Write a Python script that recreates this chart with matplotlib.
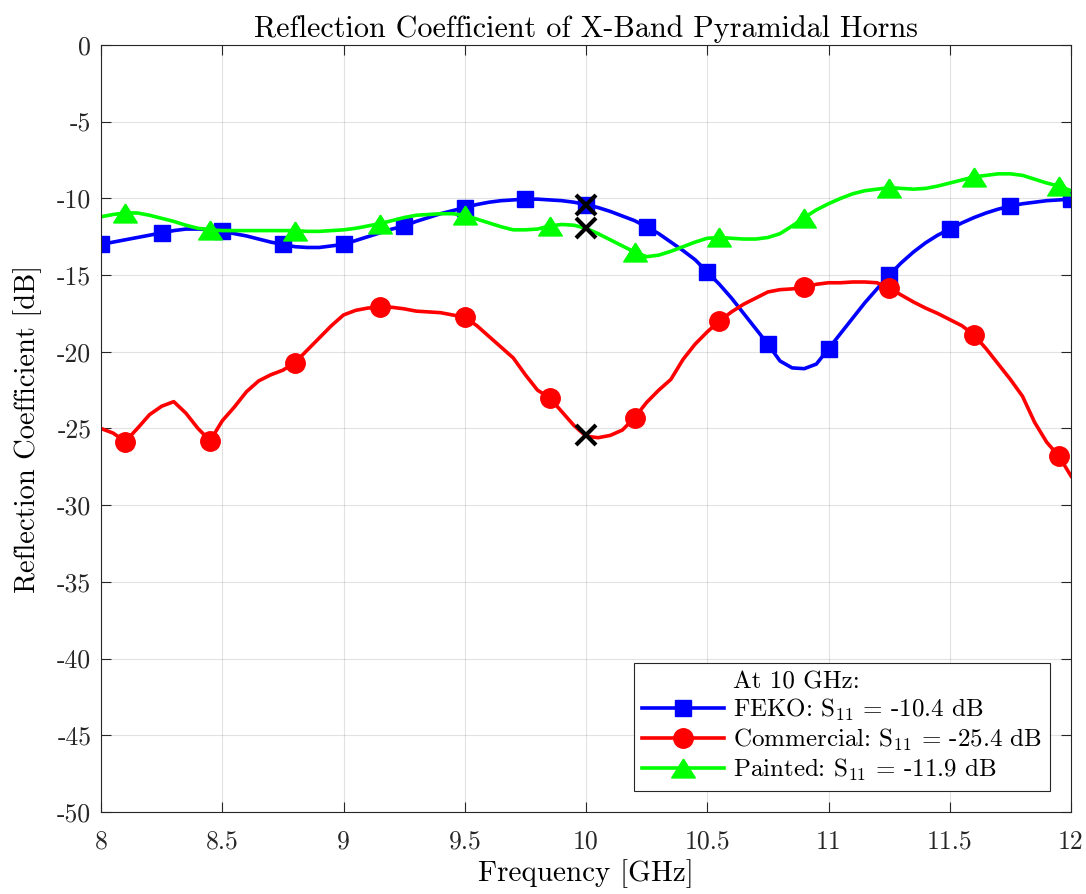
import numpy as np
import matplotlib
matplotlib.use("Agg")
import matplotlib.pyplot as plt

plt.rcParams["font.family"] = "serif"
plt.rcParams["font.serif"] = ["cmr10"]
plt.rcParams["mathtext.fontset"] = "cm"
plt.rcParams["axes.formatter.use_mathtext"] = True

# frequency grid, 0.05 GHz steps
freq = np.round(np.arange(8.0, 12.0001, 0.05), 2)

feko = [-13.0, -12.85, -12.7, -12.55, -12.4, -12.25, -12.1, -12.0, -12.0, -12.05,
        -12.15, -12.3, -12.45, -12.65, -12.85, -13.0, -13.15, -13.2, -13.2, -13.1,
        -13.0, -12.75, -12.5, -12.25, -12.0, -11.8, -11.5, -11.25, -11.0, -10.8,
        -10.6, -10.4, -10.25, -10.15, -10.1, -10.05, -10.05, -10.1, -10.15, -10.25,
        -10.4, -10.6, -10.85, -11.15, -11.45, -11.85, -12.3, -12.85, -13.4, -14.0,
        -14.8, -15.6, -16.5, -17.5, -18.5, -19.5, -20.6, -21.05, -21.1, -20.8,
        -19.8, -18.8, -17.8, -16.8, -15.9, -15.0, -14.2, -13.5, -12.9, -12.4,
        -12.0, -11.6, -11.25, -10.95, -10.7, -10.5, -10.35, -10.25, -10.15, -10.1,
        -10.05]

commercial = [-25.0, -25.3, -25.85, -25.0, -24.1, -23.55, -23.25, -24.0, -25.0, -25.8,
              -24.5, -23.6, -22.6, -21.9, -21.5, -21.2, -20.7, -19.9, -19.1, -18.3,
              -17.6, -17.3, -17.15, -17.1, -17.1, -17.2, -17.35, -17.4, -17.45, -17.6,
              -17.75, -18.3, -19.0, -19.7, -20.4, -21.5, -22.5, -23.0, -23.9, -24.8,
              -25.5, -25.6, -25.45, -25.1, -24.3, -23.3, -22.5, -21.8, -20.5, -19.5,
              -18.7, -18.0, -17.4, -16.9, -16.5, -16.1, -15.95, -15.9, -15.8, -15.6,
              -15.5, -15.5, -15.45, -15.45, -15.5, -15.85, -16.3, -16.75, -17.15, -17.5,
              -17.9, -18.3, -18.9, -19.8, -20.8, -21.8, -22.9, -24.6, -25.9, -26.8,
              -28.1]

painted = [-11.2, -11.05, -10.95, -10.95, -11.1, -11.3, -11.5, -11.75, -11.95, -12.05,
           -12.1, -12.1, -12.1, -12.1, -12.1, -12.1, -12.1, -12.15, -12.15, -12.1,
           -12.05, -11.95, -11.8, -11.65, -11.45, -11.25, -11.1, -11.05, -11.0, -11.0,
           -11.1, -11.35, -11.6, -11.85, -12.05, -12.05, -12.0, -11.8, -11.7, -11.75,
           -11.95, -12.3, -12.7, -13.1, -13.5, -13.8, -13.7, -13.45, -13.15, -12.85,
           -12.6, -12.55, -12.6, -12.65, -12.65, -12.55, -12.3, -11.8, -11.25, -10.75,
           -10.35, -10.0, -9.7, -9.5, -9.4, -9.3, -9.35, -9.4, -9.35, -9.2,
           -9.0, -8.8, -8.6, -8.5, -8.4, -8.4, -8.5, -8.75, -9.0, -9.2,
           -9.5]

# values at 10 GHz
mark_freq = [10, 10, 10]
mark_vals = [-10.4, -25.4, -11.9]

xticks = [8, 8.5, 9, 9.5, 10, 10.5, 11, 11.5, 12]
xtick_labels = ["8", "8.5", "9", "9.5", "10", "10.5", "11", "11.5", "12"]
yticks = list(range(0, -51, -5))
ytick_labels = ["0"] + ["-%d" % -v for v in yticks[1:]]

# wide matlab-style triangle
tri = [(0, 0.8), (-1, -0.8), (1, -0.8), (0, 0.8)]

fig = plt.figure(figsize=(10.86, 8.94), dpi=100)
ax = fig.add_axes([0.093, 0.0917, 0.8932, 0.858])

ax.plot([], [], " ", label="At 10 GHz:")
ax.plot(freq, feko, "-s", color=(0, 0, 1), lw=2.6, ms=11.5, markevery=5,
        label=r"FEKO: S$_{11}$ = -10.4 dB")
ax.plot(freq, commercial, "-o", color=(1, 0, 0), lw=2.6, ms=14, markevery=(2, 7),
        label=r"Commercial: S$_{11}$ = -25.4 dB")
ax.plot(freq, painted, "-", marker=tri, color=(0, 1, 0), lw=2.6, ms=17, markevery=(2, 7),
        label=r"Painted: S$_{11}$ = -11.9 dB")
ax.plot(mark_freq, mark_vals, "x", color="black", ms=15, mew=3, zorder=5)

ax.set_xlim(8, 12)
ax.set_ylim(-50, 0)
ax.set_xticks(xticks)
ax.set_xticklabels(xtick_labels)
ax.set_yticks(yticks)
ax.set_yticklabels(ytick_labels)
ax.tick_params(direction="in", length=7, width=0.8, labelsize=18.5, colors="#262626",
               top=True, right=True)
ax.tick_params(axis="x", pad=13)
ax.tick_params(axis="y", pad=7)
for sp in ax.spines.values():
    sp.set_color("#262626")
    sp.set_linewidth(0.8)
ax.grid(True, color="#262626", alpha=0.13, lw=0.8)

ax.set_xlabel("Frequency [GHz]", fontsize=21, labelpad=4)
ax.set_ylabel("Reflection Coefficient [dB]", fontsize=20.5, labelpad=11)
ax.set_title("Reflection Coefficient of X-Band Pyramidal Horns", fontsize=21.7, pad=6)

leg = ax.legend(loc="lower right", fontsize=18, fancybox=False, framealpha=1,
                edgecolor="#262626", handlelength=3.3, borderaxespad=0.85,
                labelspacing=0.15, handletextpad=0.35, borderpad=0.3)
leg.get_frame().set_linewidth(0.8)

fig.savefig("out.png", dpi=100)
